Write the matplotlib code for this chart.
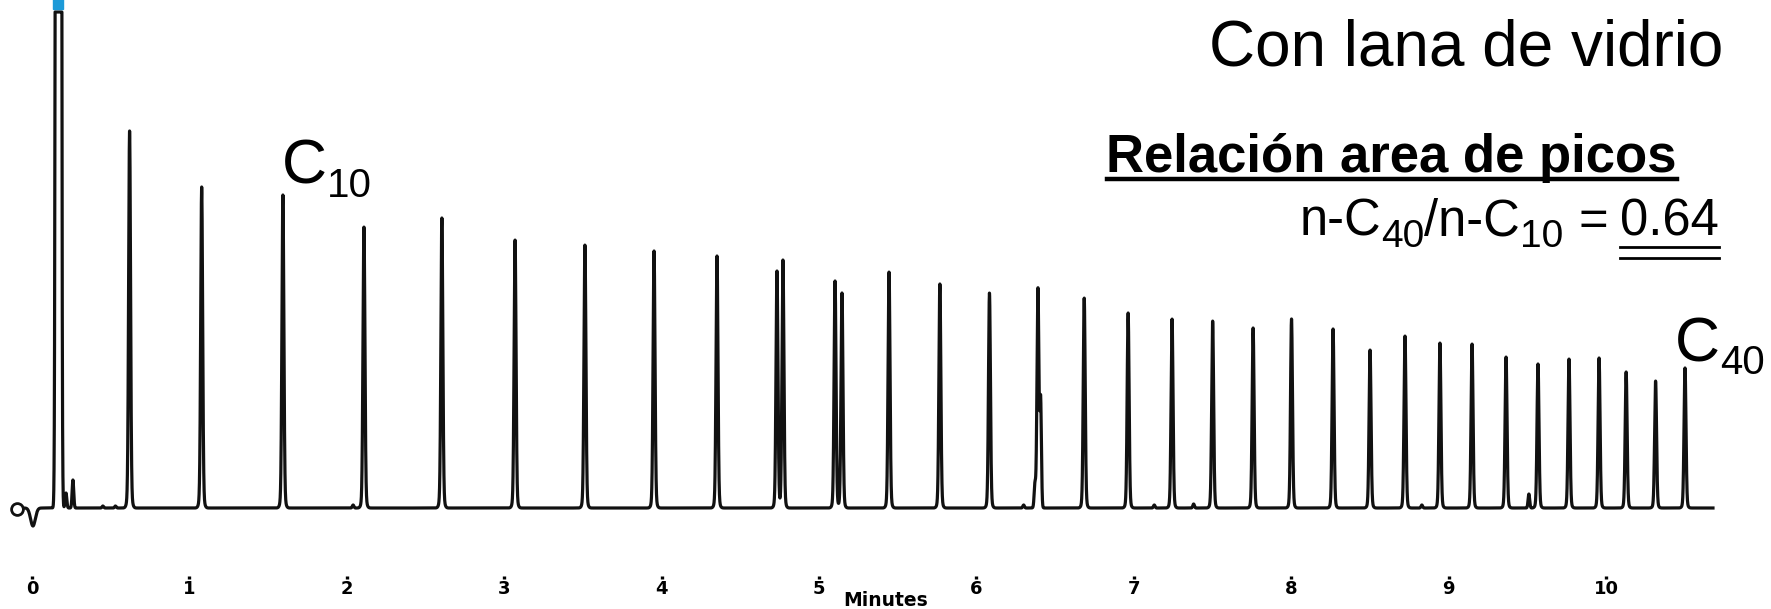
import numpy as np
import matplotlib
matplotlib.use('Agg')
import matplotlib.pyplot as plt
from matplotlib.transforms import IdentityTransform
from matplotlib.lines import Line2D

plt.rcParams['font.family'] = ['Liberation Sans', 'DejaVu Sans']

W, H, DPI = 1771, 609, 100

tiempos_picos = [0.620, 1.078, 1.594, 2.109, 2.604, 3.069, 3.513, 3.952, 4.352,
                 4.733, 4.771, 5.102, 5.146, 5.445, 5.768, 6.083, 6.391, 6.685,
                 6.964, 7.243, 7.501, 7.758, 8.002, 8.266, 8.501, 8.723, 8.945,
                 9.149, 9.365, 9.568, 9.765, 9.956, 10.128, 10.315, 10.502]
alturas_picos = [377, 321, 313, 281, 290, 268, 263, 257, 252,
                 237, 248, 227, 215, 236, 224, 215, 220, 210,
                 195, 189, 187, 180, 189, 179, 158, 172, 165,
                 164, 151, 144, 149, 150, 136, 127, 140]

# picos pequeños y ruido de linea base
tiempos_menores = [0.216, 0.260, 0.45, 0.53, 2.04, 6.30, 6.372, 6.408, 7.13, 7.38, 8.83, 9.51]
alturas_menores = [15, 28, 2, 2, 3, 3, 22, 105, 3, 4, 3, 14]

# pico del solvente (se sale de escala) y perturbacion de inyeccion
t_solvente = 0.168
h_solvente = 30000
t_caida = 0.006
h_caida = -18

ticks_min = list(range(11))
etiqueta_x = 'Minutes'

# ---- construccion de la señal
t = np.arange(-0.052, 10.68, 0.0004)
senal = np.zeros_like(t)
for tp, hp in zip(tiempos_picos, alturas_picos):
    senal += hp * (0.95 * np.exp(-0.5 * ((t - tp) / 0.006) ** 2)
                   + 0.05 * np.exp(-0.5 * ((t - tp) / 0.012) ** 2))
for tp, hp in zip(tiempos_menores, alturas_menores):
    senal += hp * np.exp(-0.5 * ((t - tp) / 0.005) ** 2)
senal += h_solvente * np.exp(-0.5 * ((t - t_solvente) / 0.00768) ** 2)
senal += h_caida * np.exp(-0.5 * ((t - t_caida) / 0.015) ** 2)
tope = 496
senal = np.minimum(senal, tope)

# ---- figura
fig = plt.figure(figsize=(W / DPI, H / DPI), dpi=DPI)
fondo = 576  # pixel (desde arriba) donde van las marcas del eje
ax = fig.add_axes([0, (H - fondo) / H, 1, fondo / H])
ax.set_xlim(-32 / 157.4, (W - 32) / 157.4)
ax.set_ylim(-(fondo - 508), 508)

ax.plot(t, senal, color='#111111', lw=2.3, solid_joinstyle='round')
ax.plot([-0.095], [-1], marker='o', ms=8.5, mfc='white', mec='#111111', mew=2.0)
ax.plot([t_solvente], [504], marker='s', ms=7.2, color='#1c9ad8', clip_on=False)

for s in ax.spines.values():
    s.set_visible(False)
ax.set_yticks([])
ax.set_xticks(ticks_min)
ax.set_xticklabels([str(v) for v in ticks_min], family='DejaVu Sans', fontweight='bold')
ax.tick_params(axis='x', length=2.2, width=2.4, direction='out', pad=0.8, labelsize=13)
ax.set_xlabel(etiqueta_x, family='DejaVu Sans', fontweight='bold', fontsize=13.5, labelpad=-5)

rend = fig.canvas.get_renderer()


def texto_por_partes(partes, x, y, alinear='left'):
    # partes: (texto, tamaño, desplazamiento vertical px, peso, espacio previo px)
    objs = []
    ancho = 0
    for s, tam, dy, peso, hueco in partes:
        tx = fig.text(0, 0, s, fontsize=tam, fontweight=peso,
                      transform=IdentityTransform(), ha='left', va='baseline')
        w = tx.get_window_extent(rend).width
        objs.append((tx, w, dy, hueco))
        ancho += w + hueco
    x0 = x - ancho if alinear == 'right' else x
    cajas = []
    for tx, w, dy, hueco in objs:
        x0 += hueco
        tx.set_position((x0, y + dy))
        cajas.append((x0, x0 + w))
        x0 += w
    return cajas


# titulo
fig.text(1723, H - 65, 'Con lana de vidrio', fontsize=46, ha='right', va='baseline',
         transform=IdentityTransform())

# relacion de areas (subrayada)
rel = fig.text(1677, H - 172, 'Relación area de picos', fontsize=38, fontweight='bold',
               ha='right', va='baseline', transform=IdentityTransform())
bb = rel.get_window_extent(rend)
fig.add_artist(Line2D([bb.x0, bb.x1], [H - 179, H - 179], transform=IdentityTransform(),
                      color='black', lw=3.2))

cajas = texto_por_partes([('n-C', 36.5, 0, 'normal', 0),
                          ('40', 28, -11, 'normal', 0),
                          ('/n-C', 36.5, 0, 'normal', 0),
                          ('10', 28, -11, 'normal', 0),
                          ('=', 36.5, 0, 'normal', 15),
                          ('0.64', 36.5, 0, 'normal', 12)], 1719, H - 236, alinear='right')
x0, x1 = cajas[-1]
for yy in (H - 247, H - 258):
    fig.add_artist(Line2D([x0, x1], [yy, yy], transform=IdentityTransform(),
                          color='black', lw=2.0))

# etiquetas de los picos C10 y C40
texto_por_partes([('C', 45, 0, 'normal', 0), ('10', 29, -13, 'normal', 0)], 282, H - 184)
texto_por_partes([('C', 45, 0, 'normal', 0), ('40', 29, -13, 'normal', 0)], 1675, H - 361)

fig.savefig('out.png', dpi=DPI)
